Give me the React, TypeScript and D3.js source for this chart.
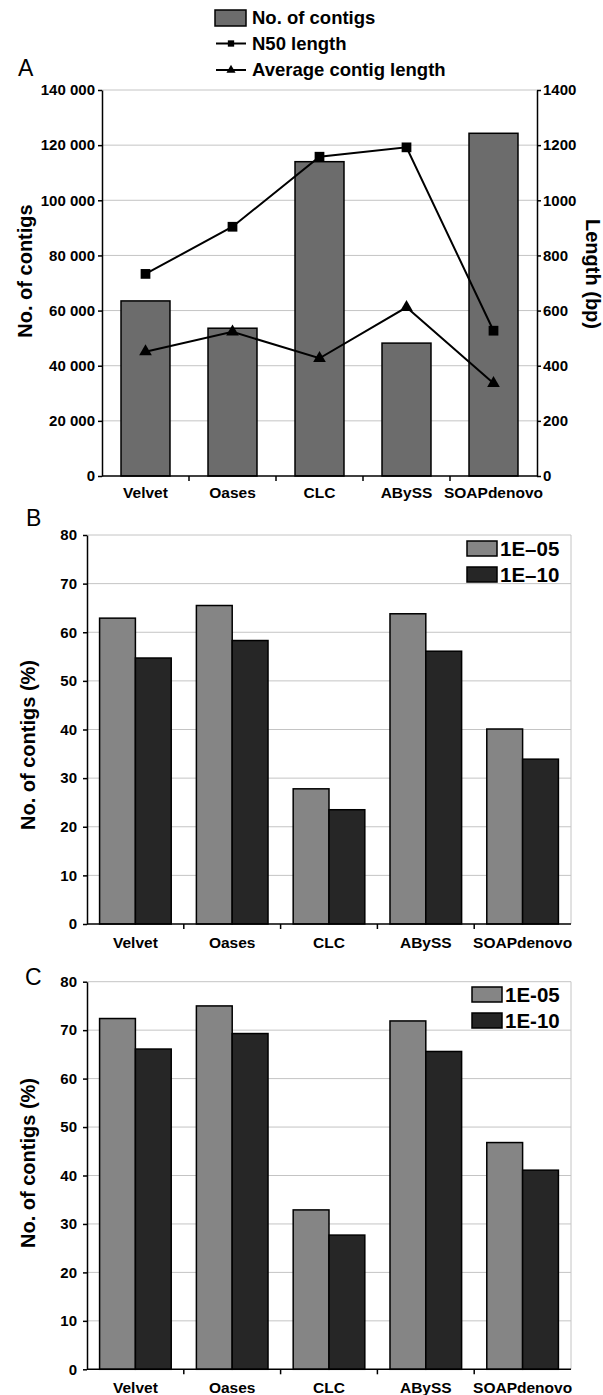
import { useRef, useEffect } from "react";
import * as d3 from "d3";

// Panel A data
const tools = ["Velvet", "Oases", "CLC", "ABySS", "SOAPdenovo"];
const contigCounts = [63500, 53600, 114000, 48200, 124300];
const n50Length = [733, 904, 1158, 1192, 527];
const avgContigLength = [451, 523, 427, 612, 336];
const countTicks = [0, 20000, 40000, 60000, 80000, 100000, 120000, 140000];
const lengthTicks = [0, 200, 400, 600, 800, 1000, 1200, 1400];

// Panel B data
const seriesB = ["1E\u201305", "1E\u201310"];
const pctB_1e05 = [62.9, 65.5, 27.8, 63.8, 40.1];
const pctB_1e10 = [54.7, 58.3, 23.5, 56.1, 33.9];

// Panel C data
const seriesC = ["1E-05", "1E-10"];
const pctC_1e05 = [72.4, 75.0, 32.9, 71.9, 46.8];
const pctC_1e10 = [66.1, 69.3, 27.7, 65.6, 41.1];
const pctTicks = [0, 10, 20, 30, 40, 50, 60, 70, 80];

const FONT = "Arial, 'Liberation Sans', Helvetica, sans-serif";
const GRID = "#c4c4c4";
const BAR_A = "#6c6c6c";
const LIGHT = "#858585";
const DARK = "#262626";

const fmtSpace = d3.formatLocale({
  decimal: ".",
  thousands: " ",
  grouping: [3],
  currency: ["", ""],
}).format(",");

type G = d3.Selection<SVGGElement, unknown, null, undefined>;

function styleAxis(ax: G, size: number) {
  ax.attr("font-family", FONT).attr("font-size", size).attr("font-weight", "bold");
  ax.select(".domain").attr("stroke", "#000").attr("stroke-width", 1.5);
  ax.selectAll(".tick line").attr("stroke", "#000").attr("stroke-width", 1.5);
  ax.selectAll(".tick text").attr("fill", "#000");
}

function categoryAxis(
  svg: G,
  x: d3.ScaleBand<string>,
  bottom: number,
  labelY: number
) {
  const [x0, x1] = x.range();
  svg
    .append("line")
    .attr("x1", x0)
    .attr("x2", x1)
    .attr("y1", bottom)
    .attr("y2", bottom)
    .attr("stroke", "#000")
    .attr("stroke-width", 1.5);
  // ticks between categories
  svg
    .selectAll(null)
    .data(x.domain().slice(1))
    .join("line")
    .attr("x1", (d) => (x(d) as number) - (x.step() * x.paddingInner()) / 2)
    .attr("x2", (d) => (x(d) as number) - (x.step() * x.paddingInner()) / 2)
    .attr("y1", bottom)
    .attr("y2", bottom + 5)
    .attr("stroke", "#000")
    .attr("stroke-width", 1.5);
  svg
    .selectAll(null)
    .data(x.domain())
    .join("text")
    .attr("x", (d) => (x(d) as number) + x.bandwidth() / 2)
    .attr("y", labelY)
    .attr("text-anchor", "middle")
    .attr("font-family", FONT)
    .attr("font-size", 15.5)
    .attr("font-weight", "bold")
    .text((d) => d);
}

function panelLetter(svg: G, letter: string, x: number, y: number) {
  svg
    .append("text")
    .attr("x", x)
    .attr("y", y)
    .attr("font-family", FONT)
    .attr("font-size", 23)
    .text(letter);
}

function yTitle(svg: G, text: string, x: number, cy: number, rot: number) {
  svg
    .append("text")
    .attr("transform", `translate(${x},${cy}) rotate(${rot})`)
    .attr("text-anchor", "middle")
    .attr("font-family", FONT)
    .attr("font-size", 20)
    .attr("font-weight", "bold")
    .text(text);
}

function drawPanelA(svg: G) {
  const left = 102;
  const right = 537;
  const top = 90;
  const bottom = 476;

  const x = d3
    .scaleBand<string>()
    .domain(tools)
    .range([left, right])
    .paddingInner(0.437)
    .paddingOuter(0.2185);
  const yL = d3.scaleLinear().domain([0, 140000]).range([bottom, top]);
  const yR = d3.scaleLinear().domain([0, 1400]).range([bottom, top]);

  // grid
  svg
    .selectAll(null)
    .data(countTicks.slice(1))
    .join("line")
    .attr("x1", left)
    .attr("x2", right)
    .attr("y1", (d) => yL(d))
    .attr("y2", (d) => yL(d))
    .attr("stroke", GRID)
    .attr("stroke-width", 1);

  // bars
  svg
    .selectAll(null)
    .data(contigCounts)
    .join("rect")
    .attr("x", (_, i) => x(tools[i]) as number)
    .attr("y", (d) => yL(d))
    .attr("width", x.bandwidth())
    .attr("height", (d) => bottom - yL(d))
    .attr("fill", BAR_A)
    .attr("stroke", "#000")
    .attr("stroke-width", 1.5);

  const cx = (i: number) => (x(tools[i]) as number) + x.bandwidth() / 2;
  const line = d3
    .line<number>()
    .x((_, i) => cx(i))
    .y((d) => yR(d));

  const series = [
    { values: n50Length, symbol: d3.symbolSquare, size: 95 },
    { values: avgContigLength, symbol: d3.symbolTriangle, size: 70 },
  ];
  series.forEach((s) => {
    svg
      .append("path")
      .datum(s.values)
      .attr("d", line)
      .attr("fill", "none")
      .attr("stroke", "#000")
      .attr("stroke-width", 2);
    svg
      .selectAll(null)
      .data(s.values)
      .join("path")
      .attr("transform", (d, i) => `translate(${cx(i)},${yR(d)})`)
      .attr("d", d3.symbol(s.symbol, s.size)())
      .attr("fill", "#000");
  });

  // axes
  const axL = svg.append("g").attr("transform", `translate(${left},0)`);
  axL.call(
    d3
      .axisLeft(yL)
      .tickValues(countTicks)
      .tickFormat((d) => fmtSpace(d as number))
      .tickSize(4)
      .tickSizeOuter(0)
      .tickPadding(3)
  );
  styleAxis(axL, 15);

  const axR = svg.append("g").attr("transform", `translate(${right},0)`);
  axR.call(
    d3
      .axisRight(yR)
      .tickValues(lengthTicks)
      .tickFormat((d) => String(d))
      .tickSize(4)
      .tickSizeOuter(0)
      .tickPadding(2)
  );
  styleAxis(axR, 15);

  categoryAxis(svg, x, bottom, 498);

  yTitle(svg, "No. of contigs", 32, 271, -90);
  yTitle(svg, "Length (bp)", 586, 274, 90);
  panelLetter(svg, "A", 18, 76);

  // legend
  const lg = svg.append("g").attr("font-family", FONT).attr("font-weight", "bold").attr("font-size", 18.5);
  lg.append("rect")
    .attr("x", 215)
    .attr("y", 10)
    .attr("width", 31)
    .attr("height", 16)
    .attr("fill", BAR_A)
    .attr("stroke", "#000")
    .attr("stroke-width", 1.5);
  lg.append("text").attr("x", 252).attr("y", 24).text("No. of contigs");

  const legendLines = [
    { y: 43.5, label: "N50 length", symbol: d3.symbolSquare, size: 40, ty: 49.5 },
    { y: 70, label: "Average contig length", symbol: d3.symbolTriangle, size: 36, ty: 76 },
  ];
  legendLines.forEach((l) => {
    lg.append("line")
      .attr("x1", 216)
      .attr("x2", 246)
      .attr("y1", l.y)
      .attr("y2", l.y)
      .attr("stroke", "#000")
      .attr("stroke-width", 2);
    lg.append("path")
      .attr("transform", `translate(231,${l.y})`)
      .attr("d", d3.symbol(l.symbol, l.size)())
      .attr("fill", "#000");
    lg.append("text").attr("x", 252).attr("y", l.ty).text(l.label);
  });
}

function drawGroupedPanel(
  svg: G,
  opts: {
    top: number;
    bottom: number;
    series: string[];
    values: number[][];
    letter: string;
    letterX: number;
    letterY: number;
    titleY: number;
    legendX: number;
    legendTextX: number;
    legendY: number[];
  }
) {
  const left = 87;
  const right = 571;
  const { top, bottom } = opts;

  const x = d3
    .scaleBand<string>()
    .domain(tools)
    .range([left, right])
    .paddingInner(0.26)
    .paddingOuter(0.13);
  const x1 = d3
    .scaleBand<string>()
    .domain(opts.series)
    .range([0, x.bandwidth()])
    .padding(0);
  const y = d3.scaleLinear().domain([0, 80]).range([bottom, top]);
  const colors = [LIGHT, DARK];

  // grid
  svg
    .selectAll(null)
    .data(pctTicks.slice(1))
    .join("line")
    .attr("x1", left)
    .attr("x2", right)
    .attr("y1", (d) => y(d))
    .attr("y2", (d) => y(d))
    .attr("stroke", GRID)
    .attr("stroke-width", 1);
  // right border
  svg
    .append("line")
    .attr("x1", right)
    .attr("x2", right)
    .attr("y1", top)
    .attr("y2", bottom)
    .attr("stroke", GRID)
    .attr("stroke-width", 1);

  opts.series.forEach((s, si) => {
    svg
      .selectAll(null)
      .data(opts.values[si])
      .join("rect")
      .attr("x", (_, i) => (x(tools[i]) as number) + (x1(s) as number))
      .attr("y", (d) => y(d))
      .attr("width", x1.bandwidth())
      .attr("height", (d) => bottom - y(d))
      .attr("fill", colors[si])
      .attr("stroke", "#000")
      .attr("stroke-width", 1.5);
  });

  const ax = svg.append("g").attr("transform", `translate(${left},0)`);
  ax.call(
    d3
      .axisLeft(y)
      .tickValues(pctTicks)
      .tickSize(4)
      .tickSizeOuter(0)
      .tickPadding(6)
  );
  styleAxis(ax, 15);

  categoryAxis(svg, x, bottom, bottom + 24);

  yTitle(svg, "No. of contigs (%)", 35, opts.titleY, -90);
  panelLetter(svg, opts.letter, opts.letterX, opts.letterY);

  const lg = svg.append("g").attr("font-family", FONT).attr("font-weight", "bold").attr("font-size", 20.5);
  opts.series.forEach((s, si) => {
    lg.append("rect")
      .attr("x", opts.legendX)
      .attr("y", opts.legendY[si])
      .attr("width", 30)
      .attr("height", 15)
      .attr("fill", colors[si])
      .attr("stroke", "#000")
      .attr("stroke-width", 1.5);
    lg.append("text")
      .attr("x", opts.legendTextX)
      .attr("y", opts.legendY[si] + 15)
      .text(s);
  });
}

export default function App() {
  const svgRef = useRef<SVGSVGElement>(null);

  useEffect(() => {
    if (!svgRef.current) return;
    const root = d3.select(svgRef.current);
    root.selectAll("*").remove();
    const svg = root.append("g") as unknown as G;

    drawPanelA(svg);

    drawGroupedPanel(svg, {
      top: 535,
      bottom: 924,
      series: seriesB,
      values: [pctB_1e05, pctB_1e10],
      letter: "B",
      letterX: 26,
      letterY: 526,
      titleY: 745,
      legendX: 467,
      legendTextX: 500,
      legendY: [541, 567],
    });

    drawGroupedPanel(svg, {
      top: 981.7,
      bottom: 1369.3,
      series: seriesC,
      values: [pctC_1e05, pctC_1e10],
      letter: "C",
      letterX: 25,
      letterY: 985,
      titleY: 1163,
      legendX: 472,
      legendTextX: 505,
      legendY: [987, 1013],
    });
  }, []);

  return (
    <svg
      ref={svgRef}
      width={603}
      height={1395}
      style={{ position: "absolute", left: 0, top: 0, background: "#fff" }}
    />
  );
}
